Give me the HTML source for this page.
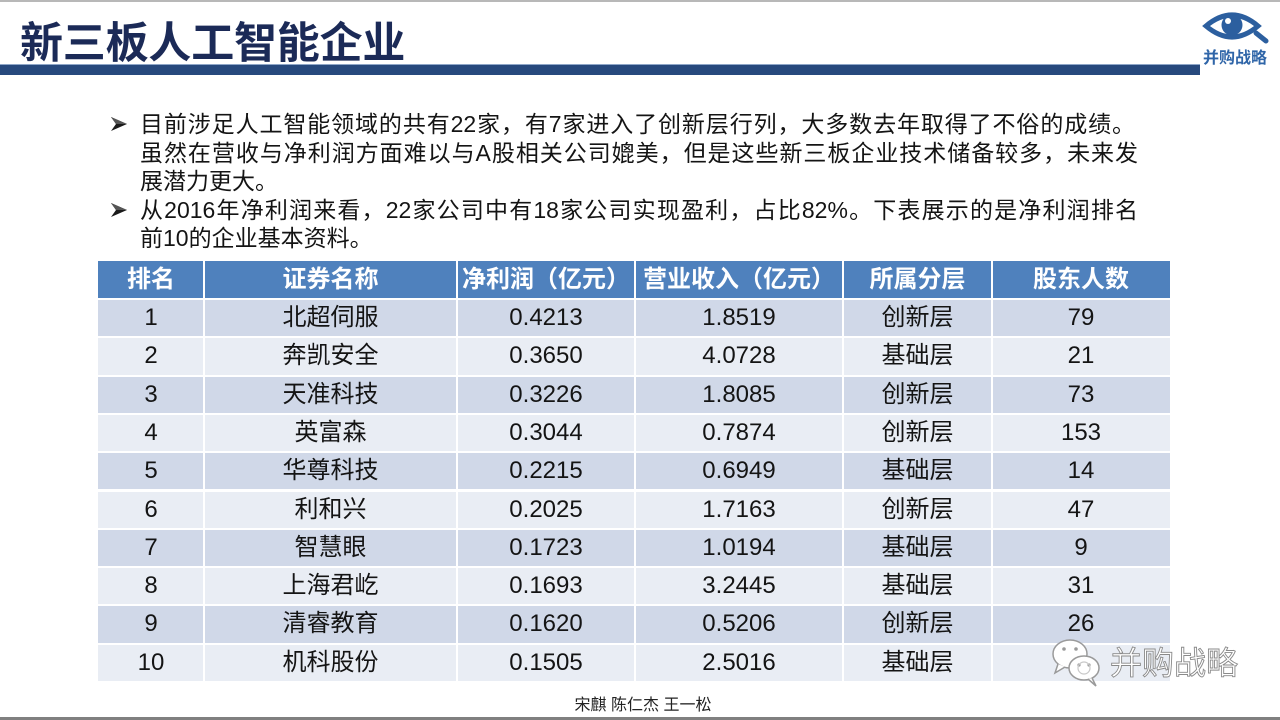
<!DOCTYPE html>
<html>
<head>
<meta charset="utf-8">
<style>
  html,body{margin:0;padding:0;}
  body{width:1280px;height:720px;position:relative;overflow:hidden;background:#ffffff;
       font-family:"Liberation Sans","Noto Sans CJK SC",sans-serif;}
  .abs{position:absolute;}
  .title{left:20px;top:23px;font-size:43px;line-height:43px;font-weight:bold;color:#1b2a57;white-space:nowrap;letter-spacing:-0.2px;}
  .bar{left:0;top:65px;width:1200px;height:10px;background:#27497d;}
  .barline{left:0;top:64px;width:1200px;height:1px;background:#8ea6c8;}
  .topline{left:0;top:0;width:1280px;height:2px;background:#b8b8b8;}
  .botline{left:0;top:717px;width:1280px;height:3px;background:#808080;}
  .ln{left:140px;font-size:23px;line-height:28px;color:#141414;white-space:nowrap;}
  .just{text-align:justify;text-align-last:justify;white-space:normal;overflow:hidden;height:28px;}
  .row{position:absolute;left:98px;width:1072px;height:36.3px;}
  .cell{position:absolute;top:0;height:100%;text-align:center;font-size:24px;line-height:36px;color:#141414;white-space:nowrap;}
  .hdr .cell{color:#ffffff;font-weight:bold;line-height:37px;}
  .c1{left:0;width:106px;}
  .c2{left:106px;width:253px;}
  .c3{left:359px;width:178px;}
  .c4{left:537px;width:208px;}
  .c5{left:745px;width:149px;}
  .c6{left:894px;width:178px;}
  .odd{background:#d0d8e8;}
  .even{background:#e9edf4;}
  .vsep{position:absolute;top:261px;height:421px;width:2px;background:#ffffff;}
</style>
</head>
<body>
<div class="abs topline"></div>
<div class="abs title">新三板人工智能企业</div>
<div class="abs barline"></div>
<div class="abs bar"></div>

<!-- logo -->
<svg class="abs" style="left:1198px;top:4px;" width="80" height="66" viewBox="0 0 80 66">
  <path d="M8 22 Q34 0 60 22 Q34 44 8 22 Z" fill="none" stroke="#2c5f9f" stroke-width="5"/>
  <circle cx="34" cy="21" r="10.5" fill="#2c5f9f"/>
  <circle cx="30" cy="17" r="3" fill="#ffffff"/>
  <line x1="58" y1="29" x2="68" y2="37" stroke="#2c5f9f" stroke-width="5" stroke-linecap="round"/>
  <text x="37" y="59" text-anchor="middle" font-family="Liberation Sans, Noto Sans CJK SC, sans-serif" font-size="16" font-weight="bold" fill="#2f65a8">并购战略</text>
</svg>

<!-- bullets -->
<svg class="abs" style="left:110px;top:116px;" width="18" height="16" viewBox="0 0 18 16"><polygon points="1,1 17,8 1,15 6,8" fill="#1a1a1a"/><polygon points="1,1 17,8 6,8" fill="#555"/></svg>
<svg class="abs" style="left:110px;top:202px;" width="18" height="16" viewBox="0 0 18 16"><polygon points="1,1 17,8 1,15 6,8" fill="#1a1a1a"/><polygon points="1,1 17,8 6,8" fill="#555"/></svg>

<div class="abs ln just" style="top:110px;width:995px;">目前涉足人工智能领域的共有22家，有7家进入了创新层行列，大多数去年取得了不俗的成绩。</div>
<div class="abs ln just" style="top:139px;width:998px;">虽然在营收与净利润方面难以与A股相关公司媲美，但是这些新三板企业技术储备较多，未来发</div>
<div class="abs ln" style="top:167px;">展潜力更大。</div>
<div class="abs ln just" style="top:196px;width:998px;">从2016年净利润来看，22家公司中有18家公司实现盈利，占比82%。下表展示的是净利润排名</div>
<div class="abs ln" style="top:224px;">前10的企业基本资料。</div>

<!-- table -->
<div class="row hdr" style="top:261px;height:37px;background:#4f81bd;">
  <div class="cell c1">排名</div><div class="cell c2">证券名称</div><div class="cell c3">净利润（亿元）</div><div class="cell c4">营业收入（亿元）</div><div class="cell c5">所属分层</div><div class="cell c6">股东人数</div>
</div>
<div class="row odd" style="top:300px;"><div class="cell c1">1</div><div class="cell c2">北超伺服</div><div class="cell c3">0.4213</div><div class="cell c4">1.8519</div><div class="cell c5">创新层</div><div class="cell c6">79</div></div>
<div class="row even" style="top:338.3px;"><div class="cell c1">2</div><div class="cell c2">奔凯安全</div><div class="cell c3">0.3650</div><div class="cell c4">4.0728</div><div class="cell c5">基础层</div><div class="cell c6">21</div></div>
<div class="row odd" style="top:376.6px;"><div class="cell c1">3</div><div class="cell c2">天准科技</div><div class="cell c3">0.3226</div><div class="cell c4">1.8085</div><div class="cell c5">创新层</div><div class="cell c6">73</div></div>
<div class="row even" style="top:414.9px;"><div class="cell c1">4</div><div class="cell c2">英富森</div><div class="cell c3">0.3044</div><div class="cell c4">0.7874</div><div class="cell c5">创新层</div><div class="cell c6">153</div></div>
<div class="row odd" style="top:453.2px;"><div class="cell c1">5</div><div class="cell c2">华尊科技</div><div class="cell c3">0.2215</div><div class="cell c4">0.6949</div><div class="cell c5">基础层</div><div class="cell c6">14</div></div>
<div class="row even" style="top:491.5px;"><div class="cell c1">6</div><div class="cell c2">利和兴</div><div class="cell c3">0.2025</div><div class="cell c4">1.7163</div><div class="cell c5">创新层</div><div class="cell c6">47</div></div>
<div class="row odd" style="top:529.8px;"><div class="cell c1">7</div><div class="cell c2">智慧眼</div><div class="cell c3">0.1723</div><div class="cell c4">1.0194</div><div class="cell c5">基础层</div><div class="cell c6">9</div></div>
<div class="row even" style="top:568.1px;"><div class="cell c1">8</div><div class="cell c2">上海君屹</div><div class="cell c3">0.1693</div><div class="cell c4">3.2445</div><div class="cell c5">基础层</div><div class="cell c6">31</div></div>
<div class="row odd" style="top:606.4px;"><div class="cell c1">9</div><div class="cell c2">清睿教育</div><div class="cell c3">0.1620</div><div class="cell c4">0.5206</div><div class="cell c5">创新层</div><div class="cell c6">26</div></div>
<div class="row even" style="top:644.7px;"><div class="cell c1">10</div><div class="cell c2">机科股份</div><div class="cell c3">0.1505</div><div class="cell c4">2.5016</div><div class="cell c5">基础层</div><div class="cell c6"></div></div>

<div class="vsep" style="left:203px;"></div>
<div class="vsep" style="left:456px;"></div>
<div class="vsep" style="left:634px;"></div>
<div class="vsep" style="left:842px;"></div>
<div class="vsep" style="left:991px;"></div>

<!-- watermark -->
<svg class="abs" style="left:1050px;top:636px;" width="56" height="52" viewBox="0 0 56 52">
  <ellipse cx="20" cy="18" rx="17" ry="14" fill="#ffffff" stroke="#9a9a9a" stroke-width="1.5"/>
  <path d="M8 28 L5 37 L15 31" fill="#ffffff" stroke="#9a9a9a" stroke-width="1.5"/>
  <circle cx="14" cy="13" r="1.8" fill="#9a9a9a"/>
  <circle cx="26" cy="13" r="1.8" fill="#9a9a9a"/>
  <ellipse cx="34" cy="32" rx="15" ry="12" fill="#ffffff" stroke="#9a9a9a" stroke-width="1.5"/>
  <path d="M42 42 L46 50 L38 43" fill="#ffffff" stroke="#9a9a9a" stroke-width="1.5"/>
  <circle cx="29" cy="29" r="1.6" fill="#9a9a9a"/>
  <circle cx="39" cy="29" r="1.6" fill="#9a9a9a"/>
  <circle cx="34" cy="32" r="6" fill="none" stroke="#c8c8c8" stroke-width="1.2"/>
</svg>
<div class="abs" style="left:1110px;top:643px;font-size:32px;line-height:40px;color:#ffffff;-webkit-text-stroke:0.9px #8a8a8a;white-space:nowrap;">并购战略</div>

<!-- footer -->
<div class="abs" style="left:563px;top:697px;width:160px;text-align:center;font-size:16px;line-height:18px;color:#222;white-space:nowrap;">宋麒 陈仁杰 王一松</div>
<div class="abs botline"></div>
</body>
</html>
